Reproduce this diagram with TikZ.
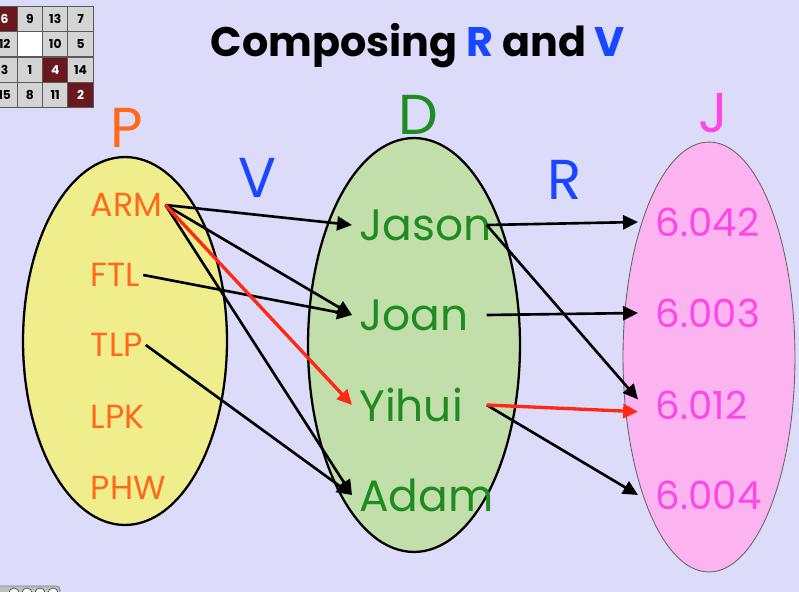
\documentclass[tikz,border=0pt]{standalone}
\usepackage{fontspec}
\setmainfont{Poppins}
\usepackage{tikz}
\usetikzlibrary{positioning,shapes.geometric,arrows.meta}
\definecolor{mylavender}{RGB}{220,220,250}
\definecolor{myyellow}{RGB}{240,238,140}
\definecolor{mygreen}{RGB}{194,222,170}
\definecolor{mypink}{RGB}{252,180,240}
\definecolor{myorange}{RGB}{255,105,25}
\definecolor{mydarkgreen}{RGB}{30,140,30}
\definecolor{mymagenta}{RGB}{255,70,230}
\definecolor{myblue}{RGB}{25,70,255}
\definecolor{myred}{RGB}{255,40,20}
\definecolor{mymaroon}{RGB}{105,25,30}
\definecolor{mygray}{RGB}{212,212,212}

\begin{document}
\begin{tikzpicture}[
  x=0.02cm, y=-0.02cm,
  myset/.style={
    draw,
    ellipse,
    inner sep=0pt,
    line width=1.3pt
    },
  myletter/.style={font=\fontsize{32}{32}\selectfont},
  pelem/.style={anchor=west, inner xsep=1.5pt, text=myorange, font=\fontsize{19}{19}\selectfont},
  delem/.style={anchor=west, inner xsep=4pt, text width=2.4cm, align=left, text=mydarkgreen, font=\fontsize{25}{25}\selectfont},
  jelem/.style={anchor=west, inner xsep=10pt, text=mymagenta, font=\fontsize{22}{22}\selectfont},
  myarrow/.style={-{Triangle[length=8.5pt,width=8pt]}, line width=1.5pt},
  redarrow/.style={myarrow, draw=myred, fill=myred, line width=1.9pt},
  tile/.style={draw=black!65, line width=0.6pt, minimum size=0.506cm, inner sep=0pt, font=\bfseries\fontsize{7}{7}\selectfont},
  light/.style={tile, fill=mygray},
  dark/.style={tile, fill=mymaroon, text=white},
  blank/.style={tile, fill=white}
]
\useasboundingbox (0,0) rectangle (799,592);
\fill[mylavender] (0,0) rectangle (799,592);

% puzzle in the corner
\foreach \Valor/\Tipo [count=\Valori from 0] in {6/dark, 9/light, 13/light, 7/light, 12/light, /blank, 10/light, 5/light, 3/light, 1/light, 4/dark, 14/light, 15/light, 8/light, 11/light, 2/dark}
{
  \pgfmathtruncatemacro{\Col}{mod(\Valori,4)}
  \pgfmathtruncatemacro{\Row}{\Valori/4}
  \node[\Tipo] (tile\Valori) at ({4.65+25.3*\Col},{18.75+25.5*\Row}) {\Valor};
}

% title
\node[font=\bfseries\fontsize{23.5}{23.5}\selectfont] (title) at (418,46)
  {Composing \textcolor{myblue}{R} and \textcolor{myblue}{V}};

% the three sets
\node[myset, fill=myyellow, minimum width=4.08cm, minimum height=7.36cm] (setP) at (125,341) {};
\node[myset, fill=mygreen, minimum width=4.24cm, minimum height=8.28cm] (setD) at (414,345) {};
\node[myset, fill=mypink, draw=black!60, line width=0.5pt, minimum width=3.44cm, minimum height=8.6cm] (setJ) at (709,357) {};

\node[myletter, text=myorange] (labP) at (127,128) {P};
\node[myletter, text=mydarkgreen] (labD) at (418,115) {D};
\node[myletter, text=mymagenta] (labJ) at (713,113) {J};
\node[myletter, text=myblue] (labV) at (258,178) {V};
\node[myletter, text=myblue] (labR) at (565,180) {R};

% elements
\foreach \Valor/\Nome/\Y in {ARM/arm/205, FTL/ftl/275, TLP/tlp/345, LPK/lpk/417, PHW/phw/488}
  \node[pelem] (\Nome) at (88,\Y) {\Valor};
\foreach \Valor/\Nome/\Y in {Jason/jason/225, Joan/joan/315, Yihui/yihui/405, Adam/adam/495}
  \node[delem] (\Nome) at (352,\Y) {\Valor};
\foreach \Valor/\Nome/\Y in {6.042/j042/222, 6.003/j003/313, 6.012/j012/405, 6.004/j004/495}
  \node[jelem] (\Nome) at (638,\Y) {\Valor};

% V
\draw[myarrow] (arm.east) -- (jason.west);
\draw[myarrow] (arm.east) -- (joan.west);
\draw[myarrow] (arm.east) -- (adam.west);
\draw[myarrow] (ftl.east) -- (joan.west);
\draw[myarrow] (tlp.east) -- (adam.west);
\draw[redarrow] (arm.east) -- (yihui.west);
% R
\draw[myarrow] (jason.east) -- (j042.west);
\draw[myarrow] (jason.east) -- (j012.175);
\draw[myarrow] (joan.east) -- (j003.west);
\draw[myarrow] (yihui.east) -- (j004.west);
\draw[redarrow] (yihui.east) -- (j012.186);

% player bar
\fill[black!25, draw=black!50, rounded corners=2pt] (-5,586) rectangle (60,600);
\foreach \Cx in {14,27,40,53}
  \draw[black!70, fill=white] (\Cx,593) circle (5);

\end{tikzpicture}
\end{document}
